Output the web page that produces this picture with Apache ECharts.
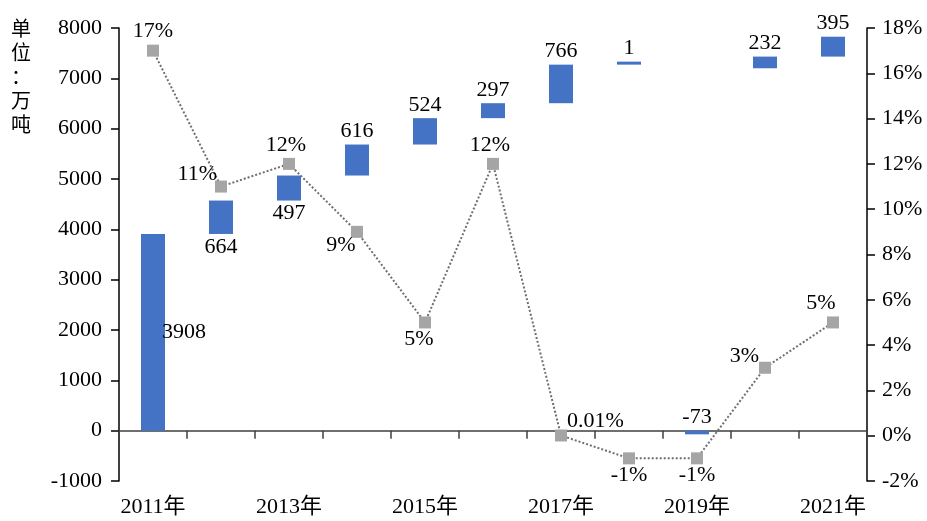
<!DOCTYPE html>
<html>
<head>
<meta charset="utf-8">
<script src="https://cdn.jsdelivr.net/npm/echarts@6/dist/echarts.min.js"></script>
<style>
html, body { margin: 0; padding: 0; background: #fff; }
#chart { width: 927px; height: 521px; }
</style>
</head>
<body>
<div id="chart"></div>
<script>
// Yearly output change (万吨) and growth rate
const years = ['2011年', '2012年', '2013年', '2014年', '2015年', '2016年', '2017年', '2018年', '2019年', '2020年', '2021年'];
const increments = [3908, 664, 497, 616, 524, 297, 766, 1, -73, 232, 395];
const growthPct = [17, 11, 12, 9, 5, 12, 0.01, -1, -1, 3, 5];
const growthLabels = ['17%', '11%', '12%', '9%', '5%', '12%', '0.01%', '-1%', '-1%', '3%', '5%'];

// axis ranges
const leftMin = -1000, leftMax = 8000, leftStep = 1000;
const rightMin = -2, rightMax = 18, rightStep = 2;

const serif = '"Liberation Serif", "Times New Roman", "Noto Sans CJK SC", serif';
const fs = 22;

// waterfall: positive changes float on the running total, declines hang from zero
let running = 0;
const baseVals = increments.map(v => {
  if (v < 0) { running += v; return 0; }
  const b = running; running += v; return b;
});

// where each bar's value label sits
const barLabelPlace = ['right', 'bottom', 'bottom', 'top', 'top', 'top', 'top', 'top', 'top', 'top', 'top'];
// where each growth label sits relative to its marker
const pctLabelPlace = [
  { position: 'top', distance: 2 },
  { position: 'left', distance: 0, offset: [2, -12] },
  { position: 'top', distance: 2, offset: [-3, 0] },
  { position: 'bottom', distance: 0, offset: [-16, -4] },
  { position: 'bottom', distance: 0, offset: [-6, 0] },
  { position: 'top', distance: 2, offset: [-3, 0] },
  { position: 'right', distance: 0, offset: [0, -14] },
  { position: 'bottom', distance: 0 },
  { position: 'bottom', distance: 0 },
  { position: 'left', distance: 0, offset: [0, -12] },
  { position: 'top', distance: 2, offset: [-12, 0] }
];

const chart = echarts.init(document.getElementById('chart'));
chart.setOption({
  animation: false,
  backgroundColor: '#fff',
  textStyle: { fontFamily: serif },
  grid: { left: 119, right: 60, top: 28, bottom: 40, containLabel: false },
  graphic: [{
    type: 'text',
    left: 11,
    top: 16,
    style: {
      text: '单\n位\n：\n万\n吨',
      font: '20px "Noto Sans CJK SC", sans-serif',
      lineHeight: 24,
      fill: '#000'
    }
  }],
  xAxis: [{
    type: 'category',
    data: years,
    axisLine: { onZero: true, onZeroAxisIndex: 0, lineStyle: { color: '#404040', width: 1.5 } },
    axisTick: { show: true, alignWithLabel: false, length: 8, lineStyle: { color: '#404040', width: 1.5 } },
    axisLabel: { show: false },
    splitLine: { show: false }
  }, {
    type: 'category',
    data: years,
    position: 'bottom',
    axisLine: { show: false, onZero: false },
    axisTick: { show: false },
    axisLabel: { interval: 1, margin: 15, color: '#000', fontSize: fs, fontFamily: serif },
    splitLine: { show: false }
  }],
  yAxis: [{
    type: 'value',
    min: leftMin, max: leftMax, interval: leftStep,
    axisLine: { show: true, lineStyle: { color: '#000', width: 1.5 } },
    axisTick: { show: true, length: 8, lineStyle: { color: '#000', width: 1.5 } },
    axisLabel: { margin: 17, color: '#000', fontSize: fs, fontFamily: serif, formatter: v => String(v) },
    splitLine: { show: false }
  }, {
    type: 'value',
    min: rightMin, max: rightMax, interval: rightStep,
    axisLine: { show: true, lineStyle: { color: '#000', width: 1.5 } },
    axisTick: { show: true, length: 8, lineStyle: { color: '#000', width: 1.5 } },
    axisLabel: { margin: 15, color: '#000', fontSize: fs, fontFamily: serif, formatter: '{value}%' },
    splitLine: { show: false }
  }],
  series: [{
    name: 'base',
    type: 'bar',
    stack: 'wf',
    barWidth: 24,
    itemStyle: { color: 'transparent' },
    emphasis: { disabled: true },
    silent: true,
    data: baseVals
  }, {
    name: '增量',
    type: 'bar',
    stack: 'wf',
    barWidth: 24,
    barMinHeight: 3,
    itemStyle: { color: '#4472C4' },
    data: increments.map((v, i) => ({
      value: v,
      label: {
        show: true,
        position: barLabelPlace[i],
        distance: barLabelPlace[i] === 'right' ? -3 : 2,
        formatter: String(v),
        color: '#000',
        fontSize: fs,
        fontFamily: serif
      }
    }))
  }, {
    name: '增速',
    type: 'line',
    yAxisIndex: 1,
    z: 5,
    symbol: 'rect',
    symbolSize: 12,
    itemStyle: { color: '#A5A5A5' },
    lineStyle: { color: '#6F6F6F', width: 2, type: 'dotted' },
    data: growthPct.map((v, i) => ({
      value: v,
      label: Object.assign({
        show: true,
        formatter: growthLabels[i],
        color: '#000',
        fontSize: fs,
        fontFamily: serif
      }, pctLabelPlace[i])
    }))
  }]
});
</script>
</body>
</html>
